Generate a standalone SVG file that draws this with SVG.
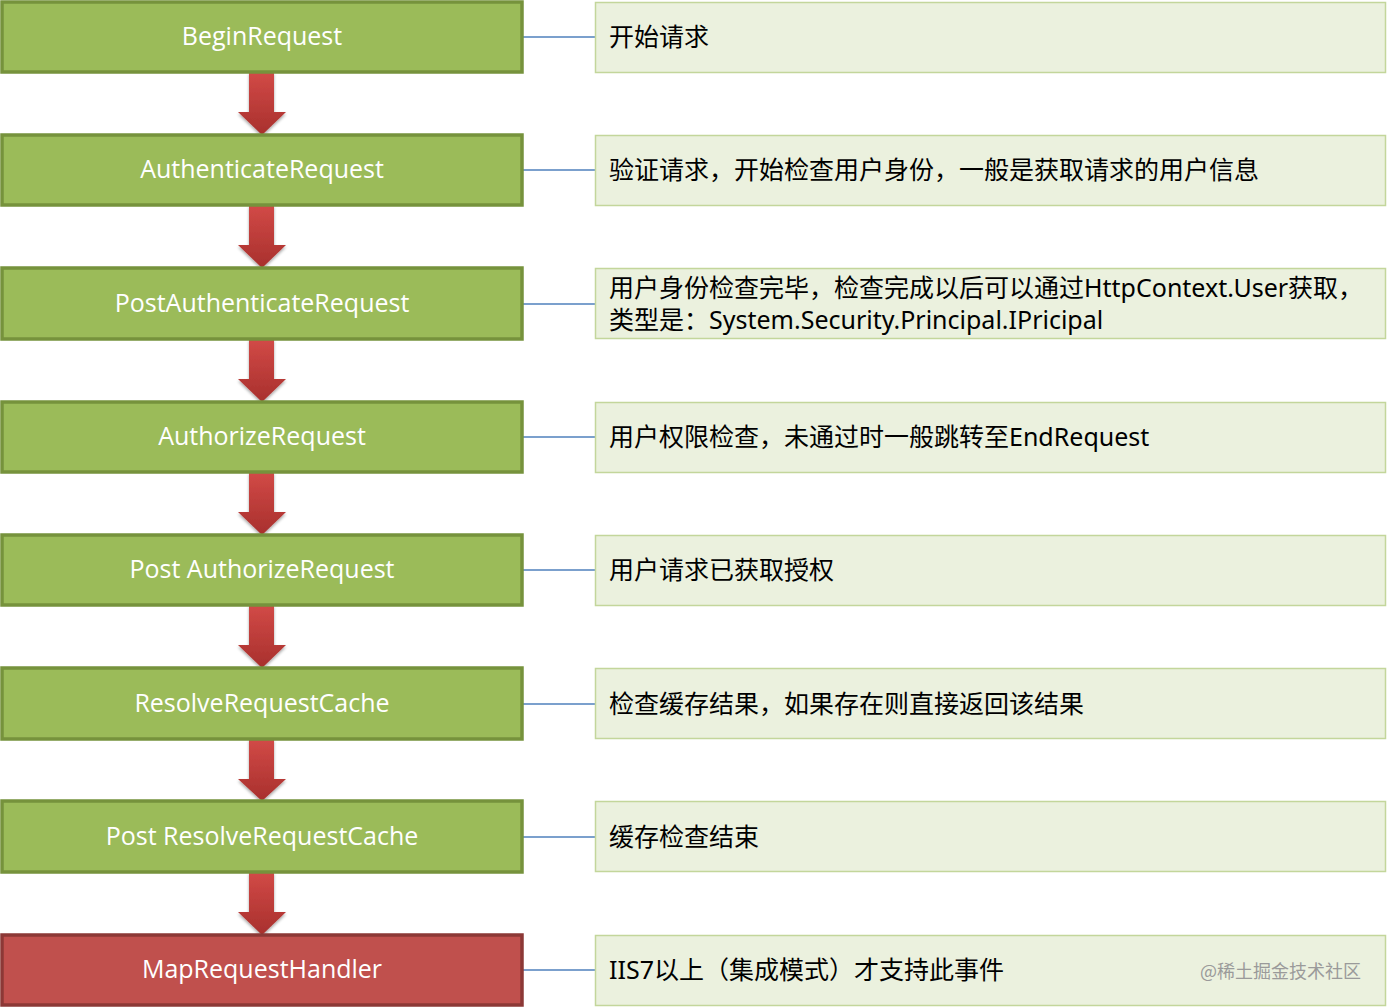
<svg xmlns="http://www.w3.org/2000/svg" width="1387" height="1008" viewBox="0 0 1387 1008">
<style>
.n rect{fill:#9bbb59;stroke:#76923c;stroke-width:3.5}
.n.red rect{fill:#c0504d;stroke:#8c3836}
.n text{fill:#fff;font-family:"Segoe UI","Open Sans","Noto Sans",sans-serif;font-size:25px;text-anchor:middle;dominant-baseline:central}
.d rect{fill:#ebf1de;stroke:#c3d69b;stroke-width:1.5}
.d text{fill:#000;font-family:"Noto Sans","Noto Sans CJK SC",sans-serif;font-size:25px;dominant-baseline:central}
.c line{stroke:#4f81bd;stroke-width:1.5}
.a path{fill:url(#ag);stroke:none}
</style>
<defs>
<linearGradient id="ag" x1="0" y1="0" x2="0" y2="1">
<stop offset="0" stop-color="#d24a47"/>
<stop offset="1" stop-color="#a8302d"/>
</linearGradient>
<filter id="sh" x="-30%" y="-30%" width="160%" height="160%">
<feDropShadow dx="0" dy="2" stdDeviation="1.5" flood-color="#000" flood-opacity="0.35"/>
</filter>
</defs>
<rect width="1387" height="1008" fill="#fff"/>

<g id="connectors">
<g class="c">
<line x1="522" y1="37" x2="595" y2="37"/>
<line x1="522" y1="170" x2="595" y2="170"/>
<line x1="522" y1="304" x2="595" y2="304"/>
<line x1="522" y1="437" x2="595" y2="437"/>
<line x1="522" y1="570" x2="595" y2="570"/>
<line x1="522" y1="704" x2="595" y2="704"/>
<line x1="522" y1="837" x2="595" y2="837"/>
<line x1="522" y1="970" x2="595" y2="970"/>
</g>
<g class="a" filter="url(#sh)">
<path d="M249,72 H274 V112 H286 L262,135 L238,112 H249 Z"/>
<path d="M249,205 H274 V245 H286 L262,268 L238,245 H249 Z"/>
<path d="M249,339 H274 V379 H286 L262,402 L238,379 H249 Z"/>
<path d="M249,472 H274 V512 H286 L262,535 L238,512 H249 Z"/>
<path d="M249,605 H274 V645 H286 L262,668 L238,645 H249 Z"/>
<path d="M249,739 H274 V779 H286 L262,801 L238,779 H249 Z"/>
<path d="M249,872 H274 V912 H286 L262,935 L238,912 H249 Z"/>
</g>
</g>

<g id="n1" class="n"><rect x="2" y="2" width="520" height="70"/><text x="262" y="35">BeginRequest</text></g>
<g id="n2" class="n"><rect x="2" y="135" width="520" height="70"/><text x="262" y="168">AuthenticateRequest</text></g>
<g id="n3" class="n"><rect x="2" y="268" width="520" height="71"/><text x="262" y="302">PostAuthenticateRequest</text></g>
<g id="n4" class="n"><rect x="2" y="402" width="520" height="70"/><text x="262" y="435">AuthorizeRequest</text></g>
<g id="n5" class="n"><rect x="2" y="535" width="520" height="70"/><text x="262" y="568">Post AuthorizeRequest</text></g>
<g id="n6" class="n"><rect x="2" y="668" width="520" height="71"/><text x="262" y="702">ResolveRequestCache</text></g>
<g id="n7" class="n"><rect x="2" y="801" width="520" height="71"/><text x="262" y="835">Post ResolveRequestCache</text></g>
<g id="n8" class="n red"><rect x="2" y="935" width="520" height="70"/><text x="262" y="968">MapRequestHandler</text></g>

<g id="d1" class="d"><rect x="595.5" y="2.5" width="790" height="70"/><text x="609" y="36">开始请求</text></g>
<g id="d2" class="d"><rect x="595.5" y="135.5" width="790" height="70"/><text x="609" y="169">验证请求，开始检查用户身份，一般是获取请求的用户信息</text></g>
<g id="d3" class="d"><rect x="595.5" y="268.5" width="790" height="70"/><text x="609" y="287" font-size="24.5">用户身份检查完毕，检查完成以后可以通过HttpContext.User获取，</text><text x="609" y="319" font-size="24.5">类型是：System.Security.Principal.IPricipal</text></g>
<g id="d4" class="d"><rect x="595.5" y="402.5" width="790" height="70"/><text x="609" y="436">用户权限检查，未通过时一般跳转至EndRequest</text></g>
<g id="d5" class="d"><rect x="595.5" y="535.5" width="790" height="70"/><text x="609" y="569">用户请求已获取授权</text></g>
<g id="d6" class="d"><rect x="595.5" y="668.5" width="790" height="70"/><text x="609" y="703">检查缓存结果，如果存在则直接返回该结果</text></g>
<g id="d7" class="d"><rect x="595.5" y="801.5" width="790" height="70"/><text x="609" y="836">缓存检查结束</text></g>
<g id="d8" class="d"><rect x="595.5" y="935.5" width="790" height="70"/><text x="609" y="969">IIS7以上（集成模式）才支持此事件</text></g>
<text x="1200" y="970" font-family="'Noto Sans CJK SC',sans-serif" font-size="18" fill="#9a9a9a" dominant-baseline="central">@稀土掘金技术社区</text>
</svg>
